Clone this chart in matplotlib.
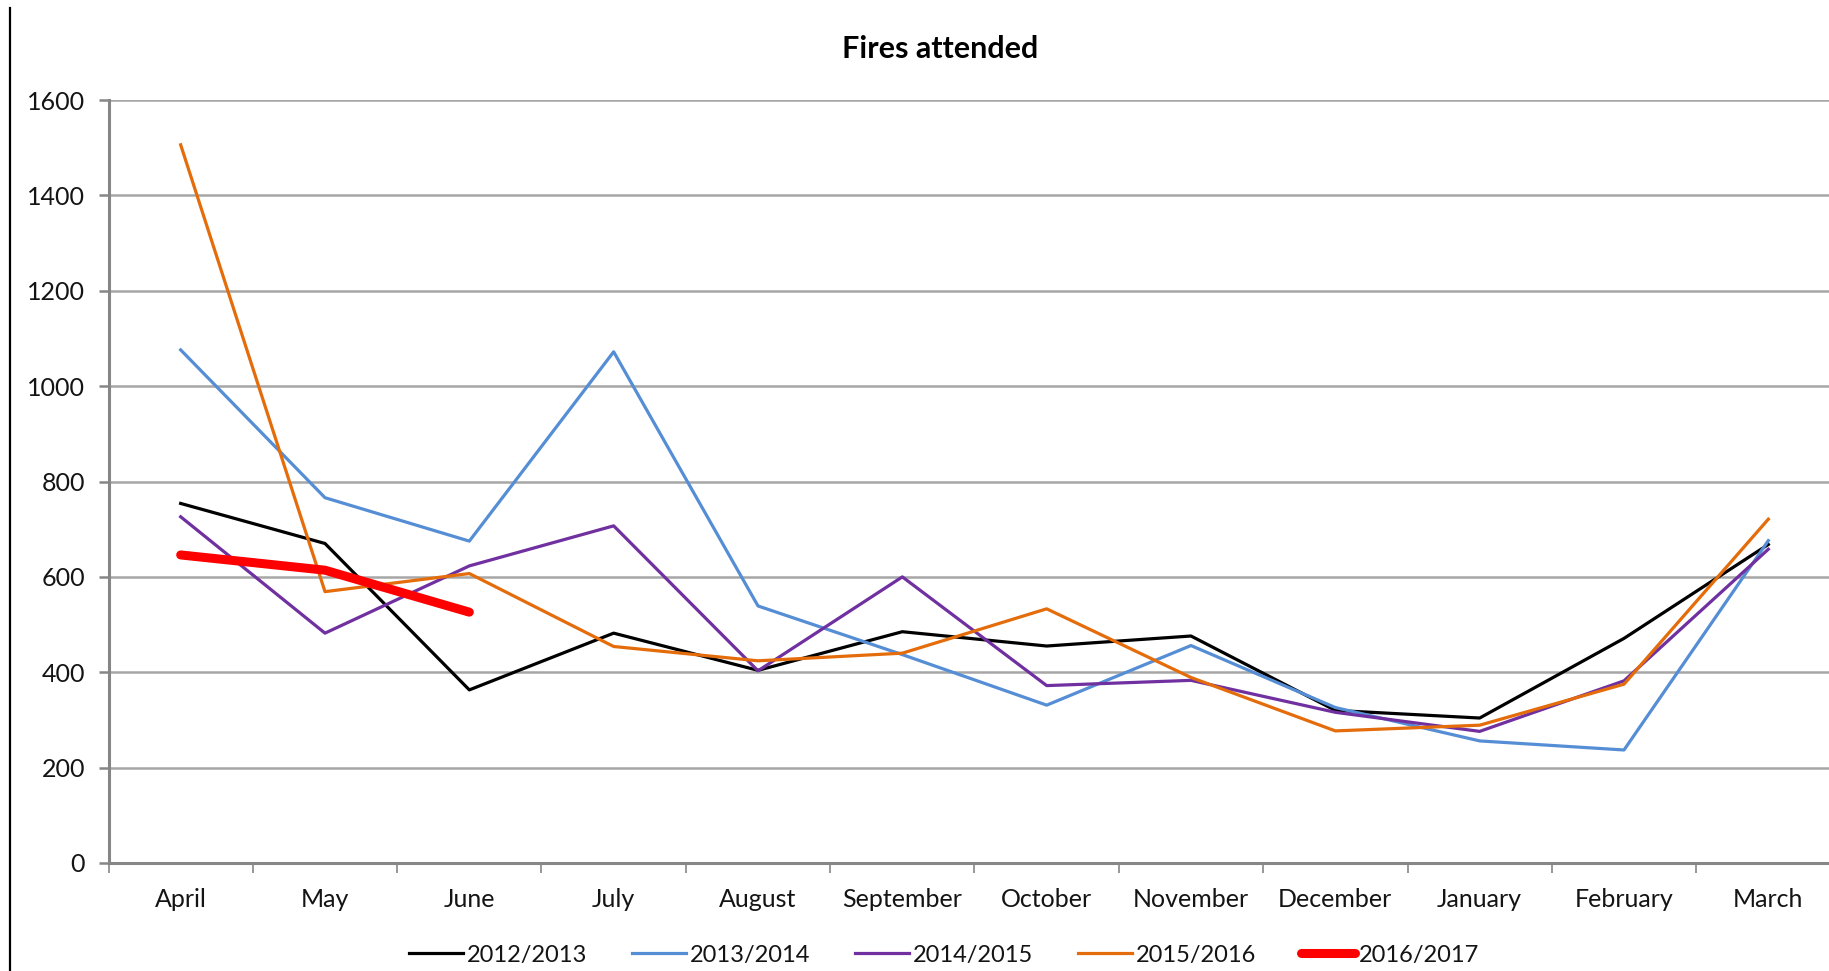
import matplotlib
matplotlib.use("Agg")
import matplotlib.pyplot as plt
from matplotlib.lines import Line2D
from matplotlib.ticker import FixedLocator

plt.rcParams['font.family'] = ['Lato', 'DejaVu Sans']

months = ["April", "May", "June", "July", "August", "September", "October",
          "November", "December", "January", "February", "March"]

s_2012 = [754, 670, 363, 482, 404, 485, 455, 476, 320, 304, 471, 668]
s_2013 = [1076, 766, 675, 1072, 539, 437, 331, 456, 326, 256, 237, 676]
s_2014 = [726, 482, 623, 707, 403, 600, 372, 383, 316, 276, 382, 658]
s_2015 = [1506, 569, 607, 454, 424, 440, 533, 389, 277, 289, 375, 721]
s_2016 = [646, 614, 526]

fig = plt.figure(figsize=(18.29, 9.71), dpi=100)
ax = fig.add_axes([108.5 / 1829, 1 - 863 / 971, 1732 / 1829, 763 / 971])

x = list(range(len(months)))
ax.plot(x, s_2012, color="#000000", lw=2.3, label="2012/2013", zorder=3)
ax.plot(x, s_2013, color="#558ED5", lw=2.3, label="2013/2014", zorder=3)
ax.plot(x, s_2014, color="#7030A0", lw=2.3, label="2014/2015", zorder=3)
ax.plot(x, s_2015, color="#E46C0A", lw=2.3, label="2015/2016", zorder=3)
ax.plot(range(len(s_2016)), s_2016, color="#FF0000", lw=6.5,
        solid_capstyle="round", label="2016/2017", zorder=4)

ax.set_xlim(-0.5, len(months) - 0.5)
ax.set_ylim(0, 1600)
ax.set_yticks(range(0, 1601, 200))
ax.yaxis.grid(True, color="#A6A6A6", lw=1.8)
ax.set_axisbelow(True)

ax.set_xticks(x)
ax.set_xticklabels(months)
ax.xaxis.set_minor_locator(FixedLocator([i - 0.5 for i in range(len(months) + 1)]))
ax.tick_params(axis="x", which="major", length=0, pad=18, labelsize=18, labelcolor="#141414")
ax.tick_params(axis="x", which="minor", length=7, width=1.2, color="#868686", direction="out")
ax.tick_params(axis="y", length=7, width=1.8, color="#868686", pad=10, labelsize=18, labelcolor="#141414")

for side in ["top", "right"]:
    ax.spines[side].set_visible(False)
for side in ["left", "bottom"]:
    ax.spines[side].set_color("#868686")
    ax.spines[side].set_linewidth(2.2)

fig.text(940 / 1829, 1 - 49 / 971, "Fires attended", ha="center", va="center",
         fontsize=22, fontweight="bold")

fig.legend(loc="center", bbox_to_anchor=(944 / 1829, 1 - 955 / 971), ncol=5,
           frameon=False, fontsize=17, handlelength=2.3, handletextpad=0.15,
           columnspacing=1.9, labelcolor="#141414")

fig.add_artist(Line2D([10 / 1829, 10 / 1829], [0, 1 - 8 / 971], color="black", lw=1.6))

fig.savefig("out.png", dpi=100)
